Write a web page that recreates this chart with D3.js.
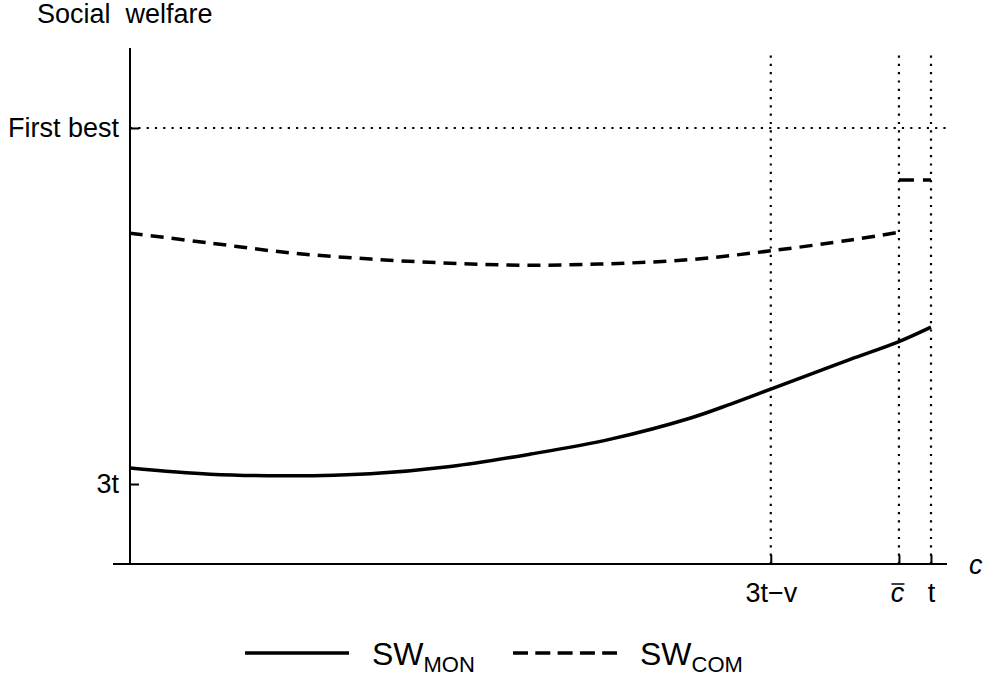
<!DOCTYPE html>
<html>
<head>
<meta charset="utf-8">
<script src="https://cdn.jsdelivr.net/npm/d3@7"></script>
<style>
  body { margin: 0; background: #fff; }
  text { font-family: "Liberation Sans", Arial, sans-serif; fill: #000; }
</style>
</head>
<body>
<div id="chart"></div>
<script>
// cost c (t = 1), welfare in arbitrary units
var cVals  = [0, 0.1, 0.2, 0.3, 0.4, 0.5, 0.6, 0.7, 0.75, 0.8, 0.85, 0.9, 0.96, 1.0];
var swMon  = [1.86, 1.74, 1.71, 1.75, 1.89, 2.13, 2.42, 2.83, 3.10, 3.39, 3.68, 3.97, 4.31, 4.59];
var cCom   = [0, 0.1, 0.2, 0.3, 0.4, 0.5, 0.6, 0.7, 0.8, 0.9, 0.96];
var swCom  = [6.41, 6.22, 6.03, 5.91, 5.83, 5.79, 5.82, 5.90, 6.07, 6.28, 6.43];
var cComHi = [0.96, 1.0];
var swComHi = [7.44, 7.44];

var xTickVals = [0.8, 0.96, 1.0];
var xTickLabels = ["3t\u2212v", "c", "t"];
var yTickVals = [1.55, 8.45];
var yTickLabels = ["3t", "First best"];
var legendNames = ["MON", "COM"];

var width = 985, height = 678;
var svg = d3.select("#chart").append("svg")
    .attr("width", width)
    .attr("height", height);

var x = d3.scaleLinear().domain([0, 1.02]).range([130, 947]);
var y = d3.scaleLinear().domain([0, 10]).range([564, 48]);

// dotted reference lines
svg.append("line")
    .attr("x1", x(0)).attr("x2", x(1.02))
    .attr("y1", y(yTickVals[1])).attr("y2", y(yTickVals[1]))
    .attr("stroke", "#000").attr("stroke-width", 2.2)
    .attr("stroke-dasharray", "2.2,6.1");
svg.selectAll(".vref")
    .data(xTickVals)
    .enter().append("line")
    .attr("x1", function(d){ return x(d); })
    .attr("x2", function(d){ return x(d); })
    .attr("y1", y(0)).attr("y2", y(9.88))
    .attr("stroke", "#000").attr("stroke-width", 2.2)
    .attr("stroke-dasharray", "2.2,6.1");

// axes
var xAxis = d3.axisBottom(x)
    .tickValues(xTickVals)
    .tickSize(-9)
    .tickPadding(19)
    .tickFormat(function(d, i){ return xTickLabels[i]; });
var gx = svg.append("g")
    .attr("transform", "translate(0," + y(0) + ")")
    .call(xAxis);
gx.select(".domain").remove();
gx.append("line")
    .attr("x1", x(0) - 17).attr("x2", x(1.02))
    .attr("stroke", "#000").attr("stroke-width", 2);
gx.selectAll(".tick line").attr("stroke", "#000").attr("stroke-width", 2);
gx.selectAll(".tick text")
    .attr("font-size", 27)
    .attr("font-family", "Liberation Sans, Arial, sans-serif")
    .attr("fill", "#000")
    .attr("dy", "0.71em");
// c-bar: italic with overline
gx.selectAll(".tick").filter(function(d){ return d === 0.96; })
    .each(function(){
      var g = d3.select(this);
      g.select("text").attr("font-style", "italic").attr("x", -2);
      g.append("line")
        .attr("x1", -8).attr("x2", 5)
        .attr("y1", 20).attr("y2", 20)
        .attr("stroke", "#000").attr("stroke-width", 1.5);
    });

var yAxis = d3.axisLeft(y)
    .tickValues(yTickVals)
    .tickSize(-9)
    .tickPadding(11)
    .tickFormat(function(d, i){ return yTickLabels[i]; });
var gy = svg.append("g")
    .attr("transform", "translate(" + x(0) + ",0)")
    .call(yAxis);
gy.select(".domain").remove();
gy.append("line")
    .attr("y1", y(0)).attr("y2", y(10))
    .attr("stroke", "#000").attr("stroke-width", 2);
gy.selectAll(".tick line").attr("stroke", "#000").attr("stroke-width", 2);
gy.selectAll(".tick text")
    .attr("font-size", 27)
    .attr("font-family", "Liberation Sans, Arial, sans-serif")
    .attr("fill", "#000");

// axis titles
svg.append("text")
    .attr("x", 37).attr("y", 23)
    .attr("font-size", 27)
    .text("Social\u00a0\u00a0welfare");
svg.append("text")
    .attr("x", 969).attr("y", 574)
    .attr("font-size", 27)
    .attr("font-style", "italic")
    .text("c");

// curves
var line = d3.line()
    .x(function(d){ return x(d[0]); })
    .y(function(d){ return y(d[1]); })
    .curve(d3.curveCatmullRom.alpha(0.5));

svg.append("path")
    .datum(d3.zip(cVals, swMon))
    .attr("d", line)
    .attr("fill", "none").attr("stroke", "#000")
    .attr("stroke-width", 3.5);

svg.append("path")
    .datum(d3.zip(cCom, swCom))
    .attr("d", line)
    .attr("fill", "none").attr("stroke", "#000")
    .attr("stroke-width", 3.5)
    .attr("stroke-dasharray", "13,8");

svg.append("path")
    .datum(d3.zip(cComHi, swComHi))
    .attr("d", line)
    .attr("fill", "none").attr("stroke", "#000")
    .attr("stroke-width", 3.5)
    .attr("stroke-dasharray", "15,9");

// legend
var legend = svg.selectAll(".legend")
    .data(legendNames)
    .enter().append("g")
    .attr("transform", function(d, i){ return "translate(" + (245 + i * 268) + ",653)"; });
legend.append("line")
    .attr("x1", 0).attr("x2", 104)
    .attr("stroke", "#000").attr("stroke-width", 3.5)
    .attr("stroke-dasharray", function(d, i){ return i === 1 ? "15,7.3" : null; });
var lt = legend.append("text")
    .attr("x", 127).attr("y", 12)
    .attr("font-size", 32);
lt.append("tspan").text("SW");
lt.append("tspan")
    .attr("font-size", 22)
    .attr("dy", 7)
    .text(function(d){ return d; });
</script>
</body>
</html>
